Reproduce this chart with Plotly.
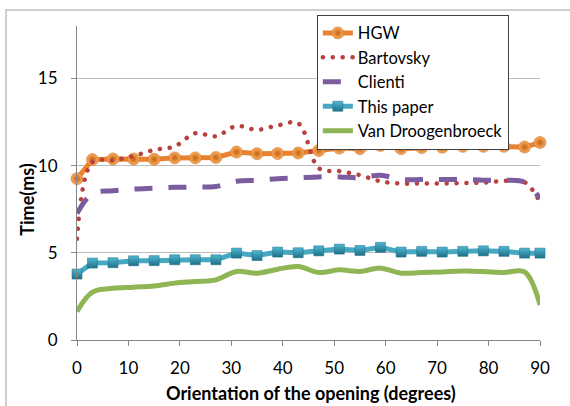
import plotly.graph_objects as go

# Orientation of the opening (degrees)
angles = [0, 3, 7, 11, 15, 19, 23, 27, 31, 35, 39, 43, 47, 51, 55, 59, 63, 67, 71, 75, 79, 83, 87, 90]

# Running times (ms)
hgw = [9.25, 10.34, 10.38, 10.38, 10.36, 10.44, 10.44, 10.46, 10.77, 10.68, 10.69, 10.72, 10.86,
       11.0, 10.97, 11.15, 10.97, 11.03, 11.05, 11.1, 11.1, 11.1, 11.06, 11.32]
bartovsky = [5.8, 10.2, 10.3, 10.55, 10.9, 11.1, 11.85, 11.68, 12.27, 12.05, 12.3, 12.42, 9.85,
             9.68, 9.45, 9.1, 8.97, 8.97, 8.97, 9.0, 9.02, 9.12, 9.05, 7.92]
clienti = [7.25, 8.4, 8.56, 8.65, 8.7, 8.75, 8.77, 8.8, 9.1, 9.15, 9.25, 9.3, 9.35, 9.35, 9.3,
           9.45, 9.2, 9.2, 9.2, 9.2, 9.16, 9.16, 9.05, 8.1]
this_paper = [3.78, 4.41, 4.43, 4.54, 4.55, 4.6, 4.6, 4.6, 4.98, 4.84, 5.04, 5.0, 5.11, 5.21,
              5.13, 5.31, 5.04, 5.08, 5.04, 5.08, 5.11, 5.08, 4.98, 4.98]
van_droogenbroeck = [1.63, 2.75, 2.97, 3.03, 3.1, 3.26, 3.35, 3.45, 3.93, 3.83, 4.06, 4.21, 3.87,
                     4.02, 3.93, 4.12, 3.83, 3.87, 3.9, 3.95, 3.92, 3.87, 3.9, 2.01]

y_ticks = [0, 5, 10, 15]
x_ticks = [0, 10, 20, 30, 40, 50, 60, 70, 80, 90]

FONT = "Lato, 'Open Sans', sans-serif"

fig = go.Figure()

fig.add_trace(go.Scatter(
    x=angles, y=hgw, name="HGW", mode="lines+markers", cliponaxis=False,
    line=dict(color="#E9812F", width=5),
    marker=dict(symbol="circle", size=12, color="#FBAE62",
                gradient=dict(type="radial", color="#C4620F"),
                line=dict(color="#C4620F", width=0.5)),
))
fig.add_trace(go.Scatter(
    x=angles, y=bartovsky, name="Bartovsky", mode="lines", cliponaxis=False,
    line=dict(color="#B8403D", width=4.5, dash="4px,5.8px", shape="spline", smoothing=1),
))
fig.add_trace(go.Scatter(
    x=angles, y=clienti, name="Clienti", mode="lines", cliponaxis=False,
    line=dict(color="#7B5C9F", width=5, dash="18px,16px", shape="spline", smoothing=1),
))
fig.add_trace(go.Scatter(
    x=angles, y=this_paper, name="This paper", mode="lines+markers", cliponaxis=False,
    line=dict(color="#46A8C2", width=5),
    marker=dict(symbol="square", size=10, color="#4FB8D3",
                gradient=dict(type="vertical", color="#1F6F86"),
                line=dict(color="#1F6F86", width=0.5)),
))
fig.add_trace(go.Scatter(
    x=angles, y=van_droogenbroeck, name="Van Droogenbroeck", mode="lines", cliponaxis=False,
    line=dict(color="#8FB555", width=5, shape="spline", smoothing=1),
))

axis_common = dict(
    showline=True, linecolor="#868686", linewidth=1,
    ticks="outside", ticklen=5, tickcolor="#868686",
    tickfont=dict(family=FONT, size=17, color="#000000"),
    zeroline=False,
)

fig.update_xaxes(range=[0, 90], tickvals=x_ticks, showgrid=False,
                 ticklabelstandoff=8, **axis_common)
fig.update_yaxes(range=[0, 18], tickvals=y_ticks, showgrid=True,
                 gridcolor="#BDBDBD", gridwidth=1, ticklabelstandoff=10, **axis_common)

fig.update_layout(
    width=570, height=406,
    margin=dict(l=77, r=30, t=26, b=66, pad=0),
    paper_bgcolor="white", plot_bgcolor="white",
    font=dict(family=FONT, color="#000000"),
    showlegend=True,
    legend=dict(
        x=0.518, y=1.036, xanchor="left", yanchor="top",
        bgcolor="white", bordercolor="#404040", borderwidth=1,
        font=dict(family=FONT, size=16.5, color="#000000"),
        tracegroupgap=0,
    ),
    annotations=[
        dict(text="<b>Orientation of the opening (degrees)</b>", xref="paper", yref="paper",
             x=0.505, y=-0.168, xanchor="center", yanchor="middle", showarrow=False,
             font=dict(family=FONT, size=18, color="#000000")),
        dict(text="<b>Time(ms)</b>", xref="paper", yref="paper", textangle=-90,
             x=-0.1086, y=0.446, xanchor="center", yanchor="middle", showarrow=False,
             font=dict(family=FONT, size=18, color="#000000")),
    ],
    shapes=[
        # light chart frame
        dict(type="rect", xref="paper", yref="paper", x0=-0.1533, x1=1.08, y0=-0.25, y1=1.051,
             line=dict(color="#CFCFCF", width=2), fillcolor="rgba(0,0,0,0)", layer="below"),
    ],
)

# round dots for the dotted series (plot and legend)
post = """
var gd = document.getElementById('{plot_id}');
function roundDots(){
  var tr = gd.querySelectorAll('.scatterlayer .trace')[1];
  var lg = gd.querySelectorAll('.legend .traces')[1];
  [tr, lg].forEach(function(g){
    if(!g) return;
    g.querySelectorAll('path.js-line').forEach(function(p){
      p.style.strokeLinecap = 'round';
      p.style.strokeDasharray = '0.1px,9.8px';
    });
  });
}
roundDots();
"""

fig.write_html("out.html", post_script=post)
